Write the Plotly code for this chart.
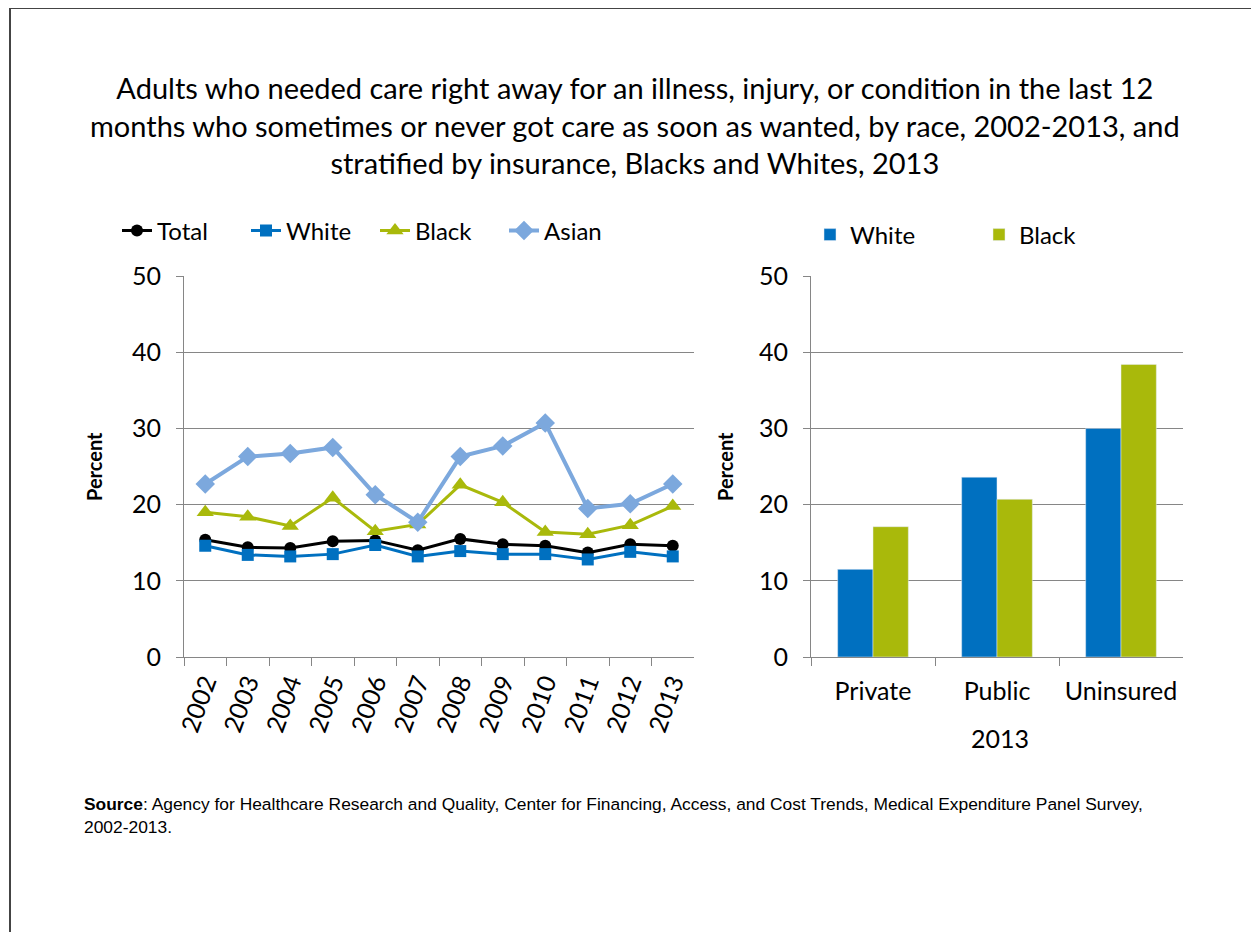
import plotly.graph_objects as go

# data
years = ["2002", "2003", "2004", "2005", "2006", "2007",
         "2008", "2009", "2010", "2011", "2012", "2013"]
total = [15.4, 14.4, 14.3, 15.2, 15.3, 14.0, 15.5, 14.8, 14.6, 13.7, 14.8, 14.6]
white = [14.6, 13.4, 13.2, 13.5, 14.7, 13.2, 13.9, 13.5, 13.5, 12.8, 13.8, 13.2]
black = [19.0, 18.4, 17.2, 20.9, 16.5, 17.4, 22.6, 20.3, 16.4, 16.1, 17.3, 19.8]
asian = [22.7, 26.3, 26.7, 27.5, 21.3, 17.7, 26.3, 27.7, 30.7, 19.5, 20.1, 22.7]

insurance = ["Private", "Public", "Uninsured"]
bar_white = [11.5, 23.6, 30.0]
bar_black = [17.1, 20.7, 38.4]

title = ("Adults who needed care right away for an illness, injury, or condition in the last 12<br>"
         "months who sometimes or never got care as soon as wanted, by race, 2002-2013, and<br>"
         "stratified by insurance, Blacks and Whites, 2013")
source = ("<b>Source</b>: Agency for Healthcare Research and Quality, Center for Financing, Access, "
          "and Cost Trends, Medical Expenditure Panel Survey,<br>2002-2013.")

W, H = 1259, 932
OFF = 8  # page body margin
FONT = "Lato, Carlito, Calibri, sans-serif"
GRID = "#868686"
C_TOTAL = "#000000"
C_WHITE = "#0070C0"
C_BLACK = "#A9B90B"
C_ASIAN = "#7CA8DD"


def px(x):
    return (x - OFF) / W


def py(y):
    return 1 - (y - OFF) / H


fig = go.Figure()

fig.add_trace(go.Scatter(x=years, y=total, name="Total", mode="lines+markers",
                         line=dict(color=C_TOTAL, width=3),
                         marker=dict(symbol="circle", size=12, color=C_TOTAL),
                         xaxis="x", yaxis="y", legend="legend"))
fig.add_trace(go.Scatter(x=years, y=white, name="White", mode="lines+markers",
                         line=dict(color=C_WHITE, width=3),
                         marker=dict(symbol="square", size=12, color=C_WHITE),
                         xaxis="x", yaxis="y", legend="legend"))
fig.add_trace(go.Scatter(x=years, y=black, name="Black", mode="lines+markers",
                         line=dict(color=C_BLACK, width=3),
                         marker=dict(symbol="triangle-up", size=15, color=C_BLACK),
                         xaxis="x", yaxis="y", legend="legend"))
fig.add_trace(go.Scatter(x=years, y=asian, name="Asian", mode="lines+markers",
                         line=dict(color=C_ASIAN, width=4),
                         marker=dict(symbol="diamond", size=15, color=C_ASIAN),
                         xaxis="x", yaxis="y", legend="legend"))

fig.add_trace(go.Bar(x=insurance, y=bar_white, name="White", marker_color=C_WHITE,
                     xaxis="x2", yaxis="y2", legend="legend2"))
fig.add_trace(go.Bar(x=insurance, y=bar_black, name="Black", marker_color=C_BLACK,
                     xaxis="x2", yaxis="y2", legend="legend2"))

yax = dict(range=[0, 50], dtick=10, showgrid=True, gridcolor=GRID, gridwidth=1,
           showline=True, linecolor=GRID, linewidth=1, ticks="outside", ticklen=7,
           tickcolor=GRID, tickfont=dict(family=FONT, size=25, color="#000"),
           ticklabelstandoff=10, zeroline=False, fixedrange=True, automargin=False)
xax = dict(type="category", showline=True, linecolor=GRID, linewidth=1,
           ticks="outside", ticklen=8, tickcolor=GRID, tickson="boundaries",
           showgrid=False, automargin=False,
           tickfont=dict(family=FONT, size=25, color="#000"))

fig.update_layout(
    width=W, height=H,
    margin=dict(l=0, r=0, t=0, b=0, autoexpand=False),
    paper_bgcolor="white", plot_bgcolor="white",
    font=dict(family=FONT, color="#000"),
    barmode="group", bargap=0.43, bargroupgap=0,
    xaxis=dict(xax, domain=[px(184), px(694)], anchor="y", tickangle=-70,
               range=[-0.5, len(years) - 0.5]),
    yaxis=dict(yax, domain=[py(657), py(276)], anchor="x"),
    xaxis2=dict(xax, domain=[px(811), px(1183)], anchor="y2", ticklabelstandoff=12,
                range=[-0.5, len(insurance) - 0.5]),
    yaxis2=dict(yax, domain=[py(657), py(276)], anchor="x2"),
    legend=dict(orientation="h", x=px(117), y=py(231), xanchor="left", yanchor="middle",
                font=dict(family=FONT, size=24), bgcolor="rgba(0,0,0,0)",
                entrywidth=84, itemwidth=30),
    legend2=dict(orientation="h", x=px(810), y=py(235), xanchor="left", yanchor="middle",
                 font=dict(family=FONT, size=24), bgcolor="rgba(0,0,0,0)",
                 entrywidth=124),
    showlegend=True,
)

annotations = [
    dict(text=title, x=px(635), y=py(125), xref="paper", yref="paper",
         xanchor="center", yanchor="middle", showarrow=False,
         font=dict(family=FONT, size=29, color="#000")),
    dict(text="<b>Percent</b>", x=px(94), y=py(467), xref="paper", yref="paper",
         xanchor="center", yanchor="middle",
         textangle=-90, showarrow=False, font=dict(family=FONT, size=20)),
    dict(text="<b>Percent</b>", x=px(725), y=py(467), xref="paper", yref="paper",
         xanchor="center", yanchor="middle",
         textangle=-90, showarrow=False, font=dict(family=FONT, size=20)),
    dict(text="2013", x=px(1000), y=py(738), xref="paper", yref="paper",
         xanchor="center", yanchor="middle",
         showarrow=False, font=dict(family=FONT, size=25)),
    dict(text=source, x=px(82), y=py(815), xref="paper", yref="paper",
         xanchor="left", yanchor="middle", align="left", showarrow=False,
         font=dict(family="Liberation Sans, Arial, sans-serif", size=17.4, color="#000")),
]
fig.update_layout(annotations=annotations)

# frame around the slide
fig.add_shape(type="line", x0=px(10), x1=px(10), y0=0, y1=py(8), xref="paper", yref="paper",
              line=dict(color="#444444", width=2))
fig.add_shape(type="line", x0=px(10), x1=px(1258), y0=py(8), y1=py(8), xref="paper", yref="paper",
              line=dict(color="#444444", width=2))
fig.add_shape(type="line", x0=px(1257), x1=px(1257), y0=0, y1=py(8), xref="paper", yref="paper",
              line=dict(color="#D0D0D0", width=1))

fig.write_html("out.html")
